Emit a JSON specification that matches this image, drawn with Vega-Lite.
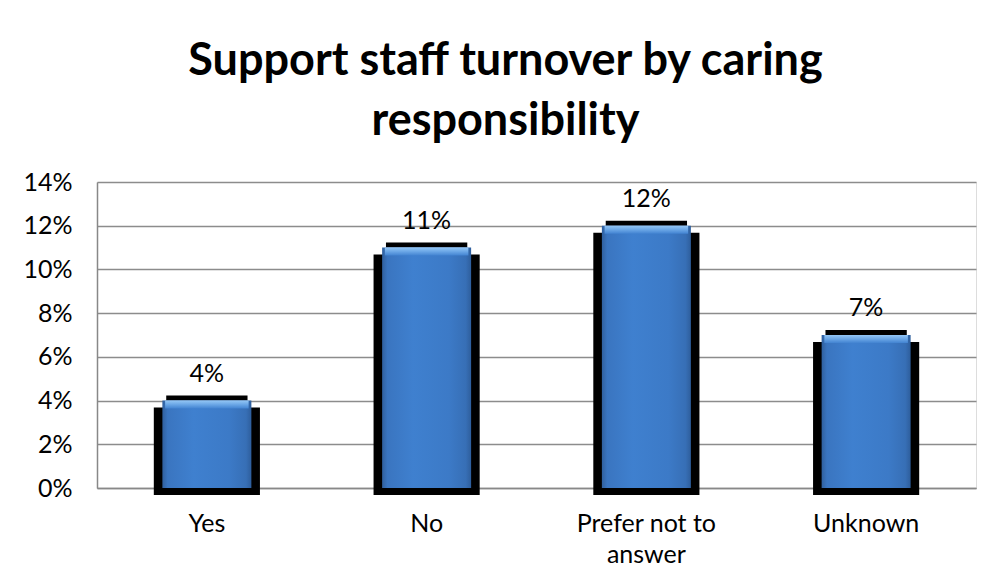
{
  "$schema": "https://vega.github.io/schema/vega-lite/v6.json",
  "width": 879,
  "height": 306,
  "autosize": {"type": "none"},
  "padding": {"left": 97, "top": 182, "right": 17, "bottom": 90},
  "background": "white",
  "title": {
    "text": ["Support staff turnover by caring", "responsibility"],
    "font": "Lato",
    "fontSize": 45,
    "fontWeight": "bold",
    "color": "black",
    "anchor": "middle",
    "baseline": "bottom",
    "lineHeight": 60,
    "offset": 38,
    "dy": 57,
    "dx": -31
  },
  "data": {
    "values": [
      {"category": "Yes", "rate": 0.04},
      {"category": "No", "rate": 0.11},
      {"category": "Prefer not to answer", "rate": 0.12},
      {"category": "Unknown", "rate": 0.07}
    ]
  },
  "encoding": {
    "x": {
      "field": "category",
      "type": "nominal",
      "sort": null,
      "scale": {"paddingInner": 0, "paddingOuter": 0},
      "axis": {
        "title": null,
        "labelAngle": 0,
        "labelFont": "Lato",
        "labelFontSize": 25,
        "labelColor": "black",
        "labelPadding": 23,
        "labelLineHeight": 31,
        "labelExpr": "length(datum.label) > 12 ? ['Prefer not to', 'answer'] : datum.label",
        "ticks": false,
        "domainColor": "#888888",
        "domainWidth": 1.5,
        "grid": false
      }
    },
    "y": {
      "field": "rate",
      "type": "quantitative",
      "scale": {"domain": [0, 0.14], "nice": false},
      "axis": {
        "title": null,
        "values": [0, 0.02, 0.04, 0.06, 0.08, 0.1, 0.12, 0.14],
        "format": ".0%",
        "labelFont": "Lato",
        "labelFontSize": 25,
        "labelColor": "black",
        "labelPadding": 25,
        "ticks": false,
        "domainColor": "#888888",
        "domainWidth": 1.5,
        "gridColor": "#8c8c8c",
        "gridWidth": 1.5
      }
    }
  },
  "layer": [
    {
      "mark": {"type": "bar", "color": "black", "width": {"band": 0.483}, "yOffset": 7, "y2Offset": 2}
    },
    {
      "mark": {"type": "bar", "color": "black", "width": {"band": 0.37}, "yOffset": -5, "y2Offset": 0},
      "encoding": {"y2": {"field": "rate"}}
    },
    {
      "mark": {
        "type": "bar",
        "width": {"band": 0.405},
        "color": {
          "gradient": "linear",
          "x1": 0, "x2": 1, "y1": 0, "y2": 0,
          "stops": [
            {"offset": 0, "color": "#30609e"},
            {"offset": 0.06, "color": "#3a75c0"},
            {"offset": 0.35, "color": "#3f80cf"},
            {"offset": 0.75, "color": "#3c7ac7"},
            {"offset": 0.94, "color": "#376fb6"},
            {"offset": 1, "color": "#2e5e9c"}
          ]
        }
      }
    },
    {
      "mark": {
        "type": "bar",
        "width": {"band": 0.38},
        "y2Offset": 8,
        "color": {
          "gradient": "linear",
          "x1": 0, "x2": 0, "y1": 0, "y2": 1,
          "stops": [
            {"offset": 0, "color": "#93c6f5"},
            {"offset": 0.5, "color": "#6aa6e6"},
            {"offset": 1, "color": "#4283d1"}
          ]
        }
      },
      "encoding": {"y2": {"field": "rate"}}
    },
    {
      "mark": {"type": "text", "font": "Lato", "fontSize": 25, "color": "black", "baseline": "alphabetic", "dy": -19},
      "encoding": {"text": {"field": "rate", "type": "quantitative", "format": ".0%"}}
    }
  ]
}
